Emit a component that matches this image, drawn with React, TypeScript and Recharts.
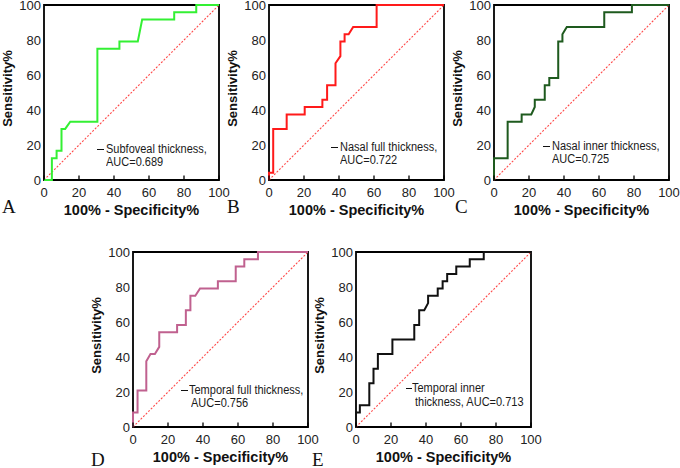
import React from 'react';
import { LineChart, Line, XAxis, YAxis, ReferenceArea, Legend } from 'recharts';

// ROC curve points: 100% - specificity (x) and sensitivity (y), in percent
const subfovealFpr = [0, 4.5, 4.5, 7.2, 7.2, 10.0, 10.0, 12.1, 15.0, 30.5, 30.5, 43.1, 43.1, 53.6, 56.1, 74.4, 74.4, 87.0, 87.0, 100];
const subfovealTpr = [0, 0, 12.5, 12.5, 16.7, 16.7, 29.2, 29.2, 33.3, 33.3, 75.0, 75.0, 79.2, 79.2, 91.7, 91.7, 95.8, 95.8, 100, 100];

const nasalFullFpr = [0, 0, 2.4, 2.4, 10.1, 10.1, 20.4, 20.4, 30.5, 30.5, 33.2, 33.2, 38.0, 38.0, 40.8, 40.8, 43.2, 43.2, 45.5, 48.1, 61.5, 61.5, 100];
const nasalFullTpr = [0, 4.2, 4.2, 29.2, 29.2, 37.5, 37.5, 41.7, 41.7, 45.8, 45.8, 54.2, 54.2, 66.7, 70.8, 79.2, 79.2, 83.3, 83.3, 87.5, 87.5, 100, 100];

const nasalInnerFpr = [0, 0, 7.8, 7.8, 15.8, 15.8, 21.3, 23.3, 23.3, 29.0, 29.0, 31.6, 31.6, 36.7, 36.7, 39.1, 39.1, 41.6, 63.0, 63.0, 78.8, 78.8, 100];
const nasalInnerTpr = [0, 12.5, 12.5, 33.3, 33.3, 37.5, 37.5, 41.7, 45.8, 45.8, 54.2, 54.2, 58.3, 58.3, 79.2, 79.2, 83.3, 87.5, 87.5, 95.8, 95.8, 100, 100];

const temporalFullFpr = [0, 0, 2.6, 2.6, 7.6, 7.6, 10.0, 12.5, 15.0, 15.0, 25.2, 25.2, 30.2, 30.2, 32.8, 32.8, 35.6, 38.3, 48.5, 48.5, 58.7, 58.7, 63.6, 63.6, 71.4, 71.4, 100];
const temporalFullTpr = [0, 8.3, 8.3, 20.8, 20.8, 37.5, 41.7, 41.7, 45.8, 54.2, 54.2, 58.3, 58.3, 66.7, 66.7, 75.0, 75.0, 79.2, 79.2, 83.3, 83.3, 91.7, 91.7, 95.8, 95.8, 100, 100];

const temporalInnerFpr = [0, 0, 2.2, 2.2, 7.6, 7.6, 10.0, 10.0, 12.5, 12.5, 20.8, 20.8, 33.3, 33.3, 36.1, 36.1, 39.0, 41.2, 41.2, 46.7, 46.7, 49.5, 49.5, 52.1, 52.1, 57.3, 57.3, 65.0, 65.0, 73.0, 73.0, 100];
const temporalInnerTpr = [0, 8.3, 8.3, 12.5, 12.5, 25.0, 25.0, 33.3, 33.3, 41.7, 41.7, 50.0, 50.0, 58.3, 58.3, 66.7, 66.7, 70.8, 75.0, 75.0, 79.2, 79.2, 83.3, 83.3, 87.5, 87.5, 91.7, 91.7, 95.8, 95.8, 100, 100];

// chance line of a random classifier
const chanceFpr = [0, 100];
const chanceTpr = [0, 100];

const axisTicks = [0, 20, 40, 60, 80, 100];
const panelLetters = ['A', 'B', 'C', 'D', 'E'];
const legendLines = [
  ['Subfoveal thickness,', 'AUC=0.689'],
  ['Nasal full thickness,', 'AUC=0.722'],
  ['Nasal inner thickness,', 'AUC=0.725'],
  ['Temporal full thickness,', 'AUC=0.756'],
  ['Temporal inner', 'thickness, AUC=0.713'],
];
const xTitle = '100% - Specificity%';
const yTitle = 'Sensitivity%';

const FONT = "Arial, 'Liberation Sans', Helvetica, sans-serif";

// geometry shared by every panel (chart-local pixels)
const PLOT_L = 44;
const PLOT_T = 12;
const PLOT = 175;
const CHART_W = 231;
const CHART_H = PLOT_T + PLOT + 55;

type Layout = {
  plotLeft: number;
  plotTop: number;
  color: string;
  letterX: number;
  letterY: number;
  dashX: number;
  dashW: number;
  textX: number;
  line1Y: number;
  line2X: number;
  line2Y: number;
};

const layouts: Layout[] = [
  { plotLeft: 44, plotTop: 5, color: '#33f033', letterX: 2, letterY: 200, dashX: 97, dashW: 7, textX: 106, line1Y: 149, line2X: 106, line2Y: 162 },
  { plotLeft: 269, plotTop: 5, color: '#ff1a1a', letterX: 227, letterY: 200, dashX: 331, dashW: 7, textX: 340, line1Y: 147, line2X: 340, line2Y: 160 },
  { plotLeft: 494, plotTop: 5, color: '#1e5a1e', letterX: 455, letterY: 200, dashX: 543, dashW: 7, textX: 552, line1Y: 146, line2X: 552, line2Y: 159 },
  { plotLeft: 133, plotTop: 252, color: '#c0618f', letterX: 91, letterY: 453, dashX: 181, dashW: 7, textX: 188.5, line1Y: 390, line2X: 191, line2Y: 403 },
  { plotLeft: 356, plotTop: 252, color: '#111111', letterX: 312, letterY: 453, dashX: 406, dashW: 6, textX: 412, line1Y: 388, line2X: 415, line2Y: 402 },
];

const series = [
  [subfovealFpr, subfovealTpr],
  [nasalFullFpr, nasalFullTpr],
  [nasalInnerFpr, nasalInnerTpr],
  [temporalFullFpr, temporalFullTpr],
  [temporalInnerFpr, temporalInnerTpr],
];

const XTick = (props: any) => {
  const { x, y, payload } = props;
  return (
    <g>
      <line x1={x} x2={x} y1={y} y2={y - 4.5} stroke="#000" strokeWidth={1.3} />
      <text x={x} y={y + 12} textAnchor="middle" dominantBaseline="central" fontSize={13} fill="#222" fontFamily={FONT}>
        {payload.value}
      </text>
    </g>
  );
};

const YTitle = () => {
  const cx = 7;
  const cy = PLOT_T + PLOT / 2 - 4;
  return (
    <text x={cx} y={cy} transform={`rotate(-90, ${cx}, ${cy})`} textAnchor="middle" dominantBaseline="central"
      fontSize={13} fontWeight="bold" fill="#111" fontFamily={FONT}>
      {yTitle}
    </text>
  );
};

const XTitle = () => {
  const cx = PLOT_L + PLOT / 2;
  const cy = PLOT_T + PLOT + 30;
  return (
    <text x={cx} y={cy} textAnchor="middle" dominantBaseline="central" fontSize={14.5} fontWeight="bold" fill="#111" fontFamily={FONT}>
      {xTitle}
    </text>
  );
};

const RocPanel = ({ index }: { index: number }) => {
  const lay = layouts[index];
  const [fpr, tpr] = series[index];
  // one row per x value; the chance line is carried in its own column
  const data = fpr.map((v, i) => ({ fpr: v, tpr: tpr[i] }));
  const chanceRows = chanceFpr.map((v, i) => ({ fpr: v, chance: chanceTpr[i] }));
  const rows = [...chanceRows.slice(0, 1), ...data, ...chanceRows.slice(1)];
  const originX = lay.plotLeft - PLOT_L;
  const originY = lay.plotTop - PLOT_T;
  const [l1, l2] = legendLines[index];

  const textStyle: React.CSSProperties = {
    position: 'absolute', whiteSpace: 'nowrap', transform: 'scaleX(0.88)', transformOrigin: 'left center',
  };

  const legendContent = () => (
    <div style={{ position: 'relative', width: 140, height: 32, fontFamily: FONT, fontSize: 12.5, color: '#1a1a1a', lineHeight: '13px' }}>
      <div style={{ position: 'absolute', left: 0, top: -0.5, width: lay.dashW, height: 1, background: '#111' }} />
      <span style={{ ...textStyle, left: lay.textX - lay.dashX, top: -6.5 }}>{l1}</span>
      <span style={{ ...textStyle, left: lay.line2X - lay.dashX, top: lay.line2Y - lay.line1Y - 6.5 }}>{l2}</span>
    </div>
  );

  return (
    <div style={{ position: 'absolute', left: originX, top: originY, width: CHART_W, height: CHART_H }}>
      <LineChart width={CHART_W} height={CHART_H} data={rows} margin={{ top: PLOT_T, right: CHART_W - PLOT_L - PLOT, bottom: 15, left: 0 }}
        style={{ fontFamily: FONT }}>
        <XAxis type="number" dataKey="fpr" domain={[0, 100]} ticks={axisTicks} axisLine={false} tickLine={false}
          tickSize={0} tickMargin={0} height={40} tick={<XTick />} interval={0} label={<XTitle />} />
        <YAxis type="number" domain={[0, 100]} ticks={axisTicks} axisLine={false} tickLine={false} tickSize={0}
          tickMargin={3} width={PLOT_L} interval={0} tick={{ fontSize: 13, fill: '#222', fontFamily: FONT }} label={<YTitle />} />
        <ReferenceArea x1={0} x2={100} y1={0} y2={100} fill="none" fillOpacity={0} stroke="#000" strokeWidth={1.8} ifOverflow="visible" />
        <Line type="linear" dataKey="chance" connectNulls stroke="#ff4a4a" strokeWidth={1.1} strokeDasharray="2 1.6"
          dot={false} activeDot={false} isAnimationActive={false} />
        <Line type="linear" dataKey="tpr" connectNulls stroke={lay.color} strokeWidth={2} dot={false} activeDot={false} isAnimationActive={false} />
        <Legend layout="vertical" align="center" verticalAlign="middle" content={legendContent}
          wrapperStyle={{ left: lay.dashX - originX, top: lay.line1Y - originY, width: 140, height: 32 }} />
      </LineChart>
    </div>
  );
};

export default function App() {
  return (
    <div style={{ position: 'absolute', left: 0, top: 0, width: 680, height: 468, background: '#fff', overflow: 'hidden' }}>
      {layouts.map((lay, i) => (
        <React.Fragment key={panelLetters[i]}>
          <RocPanel index={i} />
          <div style={{ position: 'absolute', left: lay.letterX, top: lay.letterY - 3.5, fontFamily: "'Liberation Serif', 'Times New Roman', serif", fontSize: 19, lineHeight: '19px', color: '#111' }}>
            {panelLetters[i]}
          </div>
        </React.Fragment>
      ))}
    </div>
  );
}
